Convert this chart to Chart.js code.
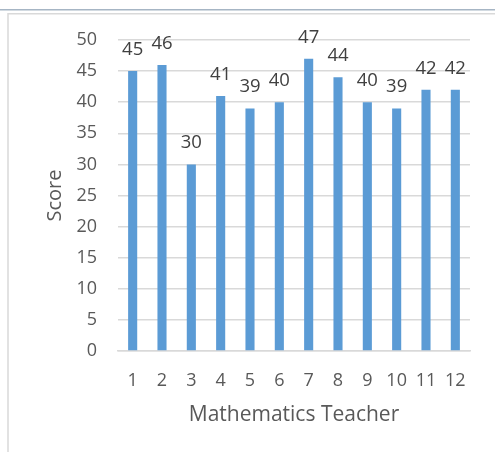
<!DOCTYPE html>
<html>
<head>
<meta charset="utf-8">
<script src="https://cdn.jsdelivr.net/npm/chart.js@4"></script>
<style>
  html, body { margin: 0; padding: 0; background: #ffffff; }
  #wrap { position: relative; width: 495px; height: 452px; }
  canvas { display: block; }
</style>
</head>
<body>
<div id="wrap"><canvas id="c" width="495" height="452"></canvas></div>
<script>
const categories = ["1", "2", "3", "4", "5", "6", "7", "8", "9", "10", "11", "12"];
const scores = [45, 46, 30, 41, 39, 40, 47, 44, 40, 39, 42, 42];
const yTicks = [0, 5, 10, 15, 20, 25, 30, 35, 40, 45, 50];
const xTitle = "Mathematics Teacher";
const yTitle = "Score";

const FONT = "'Open Sans', sans-serif";

const framePlugin = {
  id: 'frame',
  beforeDraw(chart) {
    const ctx = chart.ctx;
    ctx.save();
    ctx.fillStyle = '#ffffff';
    ctx.fillRect(0, 0, chart.width, chart.height);
    ctx.strokeStyle = '#a6b5c4';
    ctx.lineWidth = 1.5;
    ctx.beginPath();
    ctx.moveTo(0, 9.75);
    ctx.lineTo(chart.width, 9.75);
    ctx.stroke();
    ctx.strokeStyle = '#d9d9d9';
    ctx.lineWidth = 1.5;
    ctx.beginPath();
    ctx.moveTo(8, chart.height);
    ctx.lineTo(8, 13.75);
    ctx.lineTo(chart.width, 13.75);
    ctx.stroke();
    ctx.restore();
  }
};

const labelPlugin = {
  id: 'barLabels',
  afterDatasetsDraw(chart) {
    const ctx = chart.ctx;
    const meta = chart.getDatasetMeta(0);
    ctx.save();
    ctx.font = '18.5px ' + FONT;
    ctx.fillStyle = '#404040';
    ctx.textAlign = 'center';
    ctx.textBaseline = 'alphabetic';
    meta.data.forEach((bar, i) => {
      ctx.fillText(String(scores[i]), bar.x, bar.y - 16);
    });
    ctx.restore();
  }
};

new Chart(document.getElementById('c'), {
  type: 'bar',
  data: {
    labels: categories,
    datasets: [{
      data: scores,
      backgroundColor: '#5b9bd5',
      borderWidth: 0,
      categoryPercentage: 1.0,
      barPercentage: 0.31
    }]
  },
  options: {
    responsive: false,
    animation: false,
    devicePixelRatio: 1,
    layout: { padding: { left: 0, top: 40, right: 25, bottom: 0 } },
    plugins: {
      legend: { display: false },
      tooltip: { enabled: false }
    },
    scales: {
      x: {
        grid: { display: false, drawTicks: false },
        border: { display: true, color: '#d9d9d9', width: 1.5 },
        ticks: { color: '#595959', font: { family: FONT, size: 18 }, padding: 19, maxRotation: 0, autoSkip: false },
        title: { display: true, text: xTitle, color: '#595959', font: { family: FONT, size: 21 }, padding: { top: 0, bottom: 24 } },
        afterFit(scale) { scale.height = 101; }
      },
      y: {
        min: 0, max: 50,
        afterBuildTicks(scale) { scale.ticks = yTicks.map(v => ({ value: v })); },
        grid: { color: '#d9d9d9', lineWidth: 1.5, drawTicks: false },
        border: { display: false },
        ticks: { color: '#595959', font: { family: FONT, size: 18 }, padding: 21 },
        title: { display: true, text: yTitle, color: '#595959', font: { family: FONT, size: 20 }, padding: { top: 43, bottom: 0 } },
        afterFit(scale) { scale.width = 118; }
      }
    }
  },
  plugins: [framePlugin, labelPlugin]
});
</script>
</body>
</html>
